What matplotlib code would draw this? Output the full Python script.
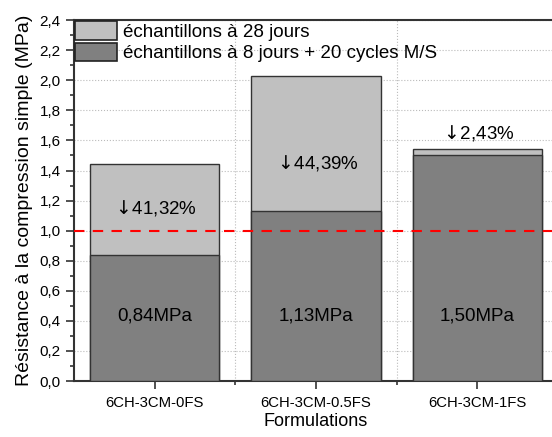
import matplotlib
matplotlib.use("Agg")
import matplotlib.pyplot as plt
from matplotlib.patches import Patch
from matplotlib.ticker import MultipleLocator, FuncFormatter

plt.rcParams['font.family'] = ['Liberation Sans', 'DejaVu Sans']

formulations = ['6CH-3CM-0FS', '6CH-3CM-0.5FS', '6CH-3CM-1FS']
strength_28d = [1.44, 2.03, 1.54]
strength_cycles = [0.84, 1.13, 1.50]
loss_labels = ['41,32%', '44,39%', '2,43%']
value_labels = ['0,84MPa', '1,13MPa', '1,50MPa']
threshold = 1.0

# where the text sits (y in MPa)
loss_label_y = [1.15, 1.45, 1.65]
value_label_y = [0.43, 0.43, 0.43]

light = '#c0c0c0'
dark = '#808080'

fig = plt.figure(figsize=(5.52, 4.37), dpi=100)
ax = fig.add_axes([0.134, 0.128, 0.877, 0.826])

x = range(1, len(formulations) + 1)
ax.bar(x, strength_28d, width=0.8, color=light, edgecolor='#333333', linewidth=1.0, zorder=2)
ax.bar(x, strength_cycles, width=0.8, color=dark, edgecolor='#333333', linewidth=1.0, zorder=3)
ax.axhline(threshold, color='red', linestyle=(0, (5, 4)), linewidth=1.5, zorder=4)

for xi, txt, y in zip(x, loss_labels, loss_label_y):
    ax.text(xi, y, r'$\downarrow\!$' + txt, ha='center', va='center', fontsize=13.5, zorder=5)
for xi, txt, y in zip(x, value_labels, value_label_y):
    ax.text(xi, y, txt, ha='center', va='center', fontsize=13.5, zorder=5)

ax.set_xlim(0.5, 3.5)
ax.set_ylim(0, 2.4)
ax.set_xticks(list(x))
ax.set_xticklabels(formulations, fontsize=10.7)
ax.set_xticks([1.5, 2.5], minor=True)
ax.yaxis.set_major_locator(MultipleLocator(0.2))
ax.yaxis.set_minor_locator(MultipleLocator(0.1))
ax.yaxis.set_major_formatter(FuncFormatter(lambda v, p: f'{v:.1f}'.replace('.', ',')))
ax.tick_params(axis='y', labelsize=11)
ax.tick_params(which='major', length=6, width=1.2, direction='out', color='#333333')
ax.tick_params(which='minor', length=3, width=1.2, direction='out', color='#333333')
ax.tick_params(axis='x', which='major', pad=5)

ax.grid(axis='y', which='major', color='#bbbbbb', linestyle=':', linewidth=0.8, zorder=0)
ax.grid(axis='x', which='minor', color='#bbbbbb', linestyle=':', linewidth=0.8, zorder=0)
ax.set_axisbelow(True)
for s in ax.spines.values():
    s.set_linewidth(1.5)
    s.set_color('#333333')

ax.set_xlabel('Formulations', fontsize=13, labelpad=2)
ax.set_ylabel('Résistance à la compression simple (MPa)', fontsize=14, labelpad=5)

handles = [Patch(facecolor=light, edgecolor='#222222', linewidth=1.2),
           Patch(facecolor=dark, edgecolor='#222222', linewidth=1.2)]
ax.legend(handles, ['échantillons à 28 jours', 'échantillons à 8 jours + 20 cycles M/S'],
          loc='upper left', bbox_to_anchor=(0.0, 1.0), frameon=False, fontsize=13.5,
          handlelength=2.24, handleheight=1.15, handletextpad=0.32, labelspacing=0.1,
          borderaxespad=0.0, borderpad=0.05)

fig.savefig('out.png', dpi=100)
